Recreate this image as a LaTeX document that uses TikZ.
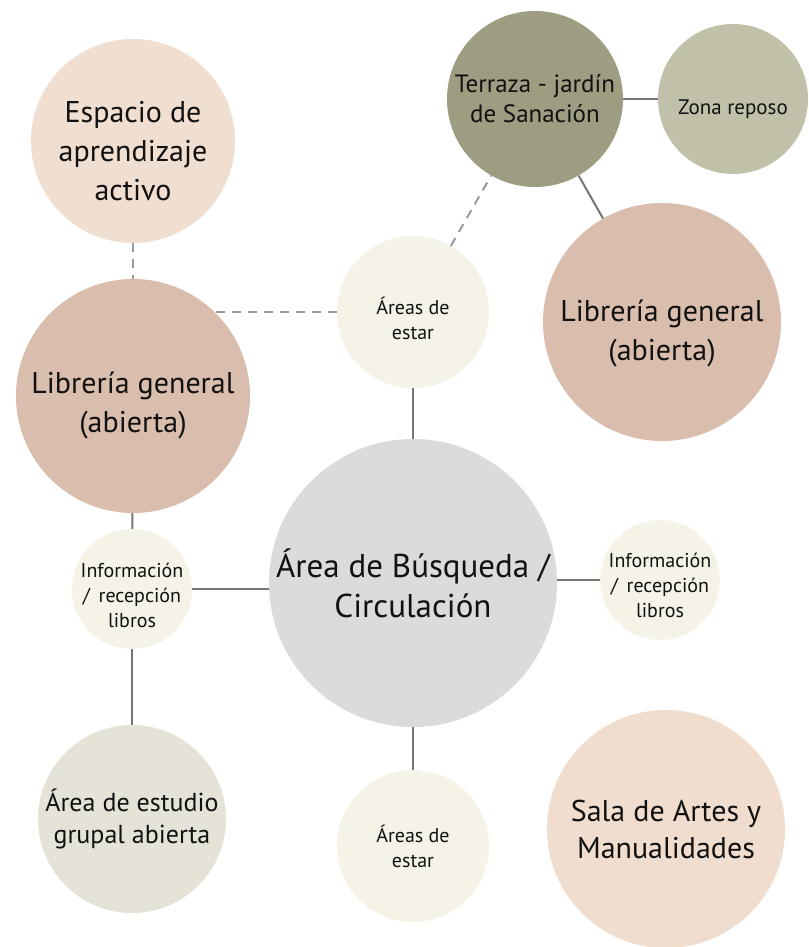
\documentclass[tikz,border=0pt]{standalone}
\usepackage{fontspec}
\setmainfont{PT Sans}
\usetikzlibrary{positioning}
\definecolor{peach}{HTML}{F0DFD0}
\definecolor{rose}{HTML}{D9BDAD}
\definecolor{cream}{HTML}{F5F3E8}
\definecolor{olive}{HTML}{9E9C81}
\definecolor{sage}{HTML}{C0C1A8}
\definecolor{stone}{HTML}{DBDBDB}
\definecolor{linen}{HTML}{E5E3D8}
\definecolor{salmon}{HTML}{F0DDCE}
\definecolor{ink}{HTML}{111111}
\definecolor{linegray}{HTML}{767676}
\definecolor{dashgray}{HTML}{9A9A9A}
\tikzset{
  bubble/.style={circle,inner sep=0pt,draw=none,text=ink,align=center},
  bigtxt/.style={font=\fontsize{30}{39}\selectfont,text=ink,align=center},
  midtxt/.style={font=\fontsize{26}{32}\selectfont},
  smalltxt/.style={font=\fontsize{20}{25}\selectfont,text=ink,align=center,yshift=-6pt},
  link/.style={draw=linegray,line width=2pt},
  linkdash/.style={draw=dashgray,line width=2pt,dash pattern=on 9pt off 7pt}
}
\begin{document}
\begin{tikzpicture}[x=1pt,y=-1pt]
\path[use as bounding box,fill=white] (0,0) rectangle (808,947);
% bubbles
\node[bubble,fill=peach,minimum size=204pt,label={[bigtxt,yshift=-10pt]center:Espacio de\\aprendizaje\\activo}] (espacio) at (133,141) {};
\node[bubble,fill=rose,minimum size=234pt,label={[bigtxt,yshift=-9pt]center:Librería general\\(abierta)}] (libizq) at (133,396) {};
\node[bubble,fill=cream,minimum size=152pt,label={[smalltxt]center:Áreas de\\estar}] (estarsup) at (413,312) {};
\node[bubble,font=\fontsize{25}{30}\selectfont,fill=olive,minimum size=176pt] (terraza) at (535,99) {Terraza - jardín\\de Sanación};
\node[bubble,fill=sage,minimum size=150pt,label={[smalltxt,font=\fontsize{21}{25}\selectfont,yshift=-4pt]center:Zona reposo}] (reposo) at (733,99) {};
\node[bubble,fill=rose,minimum size=238pt,label={[bigtxt,yshift=-11pt]center:Librería general\\(abierta)}] (libder) at (662,322) {};
\node[bubble,font=\fontsize{33}{40}\selectfont,fill=stone,minimum size=288pt] (busqueda) at (413,583) {Área de Búsqueda /\\Circulación};
\node[bubble,fill=cream,minimum size=120pt,label={[smalltxt]center:Información\\/ \,recepción\\libros}] (infoizq) at (132,589) {};
\node[bubble,fill=cream,minimum size=120pt,label={[smalltxt,yshift=1pt]center:Información\\/ \,recepción\\libros}] (infoder) at (660,580) {};
\node[bubble,midtxt,fill=linen,minimum size=188pt] (estudio) at (132,819) {Área de estudio\\grupal abierta};
\node[bubble,fill=cream,minimum size=152pt,label={[smalltxt,yshift=6pt]center:Áreas de\\estar}] (estarinf) at (413,846) {};
\node[bubble,font=\fontsize{30}{37}\selectfont,fill=salmon,minimum size=238pt] (artes) at (666,829) {Sala de Artes y\\Manualidades};
% connectors
\draw[linkdash] (espacio) -- (libizq);
\draw[linkdash] (estarsup.west) -- (libizq.north east |- estarsup.west);
\draw[linkdash] (estarsup) -- (terraza);
\draw[link] (terraza) -- (reposo);
\draw[link] (terraza) -- (libder);
\draw[link] (estarsup) -- (busqueda);
\draw[link] (libizq) -- (infoizq);
\draw[link] (infoizq.east) -- (busqueda.west |- infoizq.east);
\draw[link] (busqueda.east |- infoder.west) -- (infoder.west);
\draw[link] (infoizq) -- (estudio);
\draw[link] (busqueda) -- (estarinf);
\end{tikzpicture}
\end{document}
